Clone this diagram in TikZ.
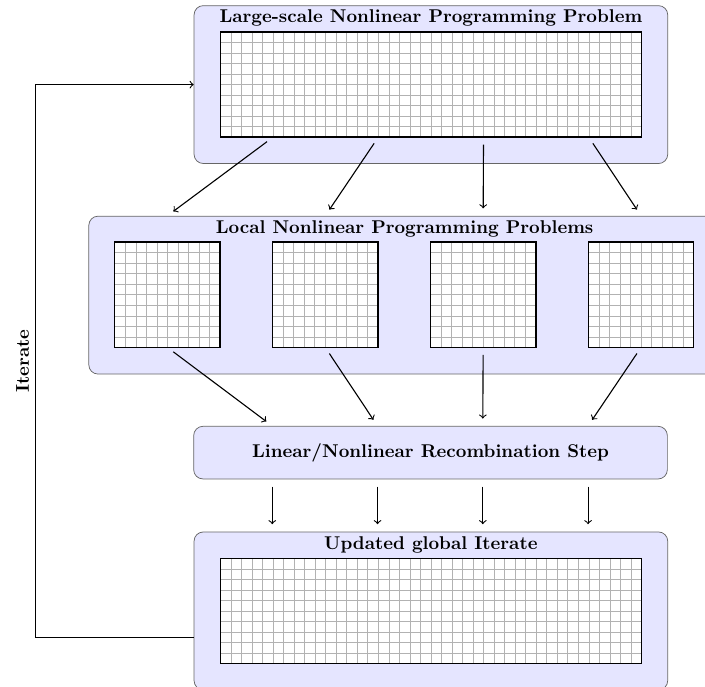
\documentclass[tikz,border=0pt]{standalone}
\usetikzlibrary{positioning,calc}

\tikzset{
  panel/.style={draw=black!60, fill=blue!10, rounded corners=5pt},
  matbox/.style={fill=white, inner sep=0pt, outer sep=0pt},
  gridlines/.style={black!30, line width=0.3pt},
  flow/.style={->, semithick, shorten >=4pt, shorten <=4pt},
}

\begin{document}
\begin{tikzpicture}
  \useasboundingbox (-0.18,-12.934) rectangle (13.215,0.1);

  % global problem
  \node[panel, minimum width=9cm, minimum height=3cm, anchor=north west] (global) at (3.5,0) {};
  \node[font=\bfseries] at ($(global.north)+(0,-0.25)$) (globaltitle) {Large-scale Nonlinear Programming Problem};
  \node[matbox, minimum width=8cm, minimum height=2cm] at (global.center) (globalmat) {};
  \draw[gridlines, shift={(globalmat.south west)}] (0,0) grid[step=0.2] (8,2);
  \draw[thick] (globalmat.south west) rectangle (globalmat.north east);

  % local problems
  \node[panel, minimum width=12cm, minimum height=3cm, anchor=north west] (local) at (1.5,-4) {};
  \node[font=\bfseries] at ($(local.north)+(0,-0.25)$) (localtitle) {Local Nonlinear Programming Problems};
  \foreach \i in {1,...,4}{
    \node[matbox, minimum size=2cm] at ($(local.north west)+(3*\i-1.5,-1.5)$) (loc\i) {};
    \draw[gridlines, shift={(loc\i.south west)}] (0,0) grid[step=0.2] (2,2);
    \draw[thick] (loc\i.south west) rectangle (loc\i.north east);
  }

  % recombination
  \node[panel, minimum width=9cm, minimum height=1cm, font=\bfseries] at (8,-8.5) (recomb) {Linear/Nonlinear Recombination Step};

  % updated iterate
  \node[panel, minimum width=9cm, minimum height=3cm, anchor=north west] (update) at (3.5,-10) {};
  \node[font=\bfseries] at ($(update.north)+(0,-0.25)$) (updatetitle) {Updated global Iterate};
  \node[matbox, minimum width=8cm, minimum height=2cm] at (update.center) (updatemat) {};
  \draw[gridlines, shift={(updatemat.south west)}] (0,0) grid[step=0.2] (8,2);
  \draw[thick] (updatemat.south west) rectangle (updatemat.north east);

  \foreach \i in {1,...,4}{
    \coordinate (gq\i) at ($(globalmat.south west)+(2*\i-1,0)$);
    \coordinate (rq\i) at ($(recomb.north west)+(2*\i-0.5,0)$);
    \draw[flow] (gq\i) -- (loc\i.north |- local.north);
    \draw[flow] (loc\i.south) -- (rq\i);
    \draw[flow] (rq\i |- recomb.south) -- (rq\i |- update.north);
  }

  % loop back
  \coordinate (loopin) at (global.west |- globalmat.west);
  \coordinate (loopout) at ($(update.west |- updatemat.west)+(0,-0.5)$);
  \draw[->, semithick] (loopout) -- ++(-3,0) |- node[pos=0.25, above, sloped, font=\bfseries] {Iterate} (loopin);

\end{tikzpicture}
\end{document}
